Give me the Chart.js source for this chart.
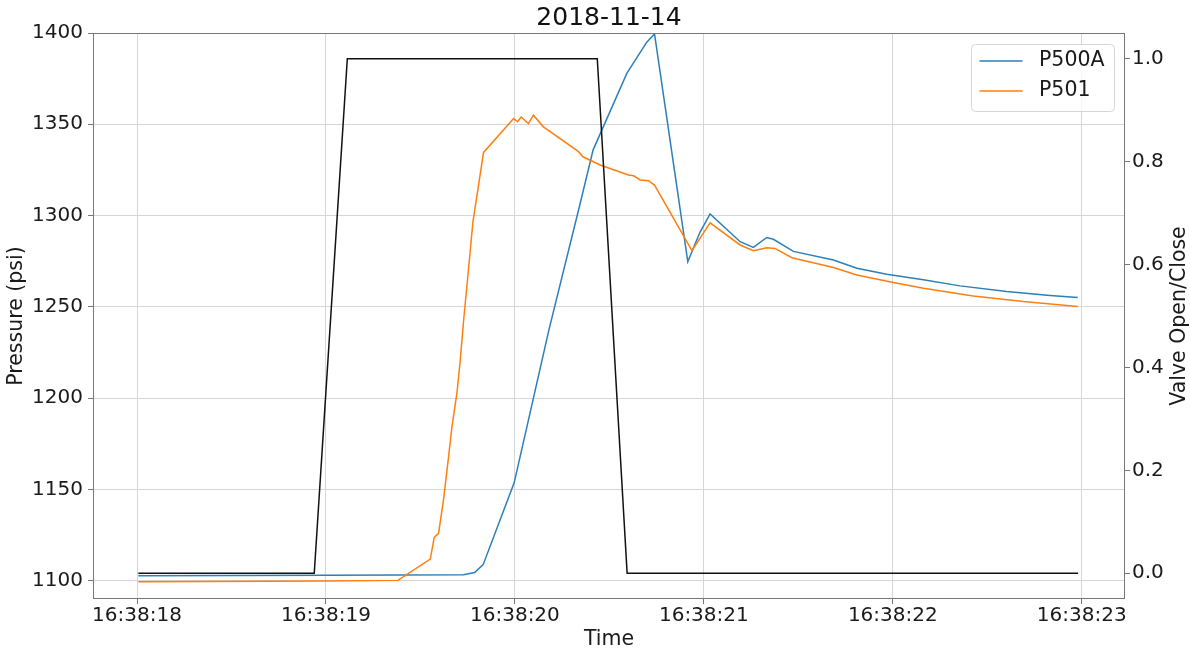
<!DOCTYPE html>
<html>
<head>
<meta charset="utf-8">
<script src="https://cdn.jsdelivr.net/npm/chart.js@4.4.1/dist/chart.umd.min.js"></script>
<style>
  html, body { margin: 0; padding: 0; background: #fff; }
  #wrap { width: 1190px; height: 652px; }
</style>
</head>
<body>
<div id="wrap"><canvas id="pressureChart" width="1190" height="652"></canvas></div>
<script>
// seconds after 16:38:18
const timeP500A = [0.007, 1.007, 1.728, 1.787, 1.832, 1.996, 2.098, 2.180, 2.346, 2.414, 2.593, 2.698, 2.739,
    2.915, 2.980, 3.033, 3.192, 3.262, 3.333, 3.368, 3.474, 3.686, 3.810, 3.968, 4.162, 4.356, 4.603, 4.832, 4.979]
const pressureP500A = [1102.7, 1103.0, 1103.3, 1104.5, 1108.8, 1153.6, 1200, 1237.4, 1306.9, 1336, 1378, 1395, 1399.5,
    1274.8, 1291, 1300.9, 1285.7, 1282.6, 1288, 1287, 1280.4, 1275.7, 1271.2, 1267.9, 1264.8, 1261.5, 1258.4, 1256.2, 1255.1]

const timeP501 = [0.007, 1.007, 1.381, 1.552, 1.573, 1.596, 1.622, 1.649, 1.667, 1.693, 1.711, 1.728, 1.749, 1.778,
    1.834, 1.993, 2.014, 2.033, 2.072, 2.098, 2.151, 2.337, 2.360, 2.451, 2.601, 2.628, 2.663, 2.707, 2.739,
    2.937, 3.033, 3.192, 3.262, 3.333, 3.377, 3.466, 3.686, 3.810, 4.003, 4.162, 4.426, 4.691, 4.979]
const pressureP501 = [1099.5, 1099.8, 1100.2, 1111.9, 1123.7, 1126, 1144.3, 1168, 1184.5, 1202.7, 1221, 1242, 1264.7, 1296.7,
    1334.6, 1353.2, 1351.4, 1354, 1350.4, 1355, 1348.6, 1335, 1332.2, 1327.7, 1322.2, 1321.8, 1319.5, 1319.1, 1316.7,
    1280.8, 1296, 1283.9, 1280.8, 1282.4, 1282, 1276.9, 1271.6, 1267.5, 1263.3, 1260.2, 1256, 1252.9, 1250.2]

const timeValve = [0.007, 0.938, 1.113, 2.436, 2.594, 4.981]
const valveState = [0, 0, 1, 1, 0, 0]

const timeTicks = [0, 1, 2, 3, 4, 5]
const pressureTicks = [1100, 1150, 1200, 1250, 1300, 1350, 1400]
const valveTicks = [0, 0.2, 0.4, 0.6, 0.8, 1.0]

const valveAxisTitle = 'Valve Open/Close'

Chart.defaults.font.family = "'DejaVu Sans', sans-serif"
Chart.defaults.color = '#1a1a1a'

const toPoints = (xs, ys) => xs.map((x, i) => ({ x, y: ys[i] }))
const fixTicks = values => scale => { scale.ticks = values.map(value => ({ value })) }

// matplotlib-ish frame, legend box and the right axis label read bottom-to-top
const frameLegend = {
    id: 'frameLegend',
    afterDatasetsDraw(chart) {
        const { ctx, chartArea } = chart
        ctx.save()
        ctx.strokeStyle = '#777'
        ctx.lineWidth = 1
        ctx.strokeRect(chartArea.left + 0.5, chartArea.top + 0.5, chartArea.right - chartArea.left - 1, chartArea.bottom - chartArea.top - 1)

        const items = chart.data.datasets.filter(d => d.inLegend)
        const w = 143, h = 67
        const left = chartArea.right - 11 - w, top = chartArea.top + 11
        ctx.beginPath()
        ctx.roundRect(left + 0.5, top + 0.5, w, h, 4)
        ctx.fillStyle = 'rgba(255,255,255,0.8)'
        ctx.fill()
        ctx.strokeStyle = '#d6d6d6'
        ctx.stroke()

        ctx.font = "20.5px 'DejaVu Sans'"
        ctx.textBaseline = 'middle'
        items.forEach((d, i) => {
            const y = top + 17 + i * 30
            ctx.beginPath()
            ctx.moveTo(left + 8.5, y)
            ctx.lineTo(left + 51.5, y)
            ctx.strokeStyle = d.borderColor
            ctx.lineWidth = 1.5
            ctx.stroke()
            ctx.fillStyle = '#1a1a1a'
            ctx.fillText(d.label, left + 68, y)
        })

        ctx.translate(chart.width - 10, (chartArea.top + chartArea.bottom) / 2)
        ctx.rotate(-Math.PI / 2)
        ctx.textAlign = 'center'
        ctx.textBaseline = 'middle'
        ctx.fillText(valveAxisTitle, 0, 0)
        ctx.restore()
    }
}

const data = {
    datasets: [
        {
            label: 'Valve',
            data: toPoints(timeValve, valveState),
            borderColor: '#111',
            yAxisID: 'y1',
            order: 0
        },
        {
            label: 'P500A',
            data: toPoints(timeP500A, pressureP500A),
            borderColor: '#2c7fb8',
            yAxisID: 'y',
            inLegend: true,
            order: 2
        },
        {
            label: 'P501',
            data: toPoints(timeP501, pressureP501),
            borderColor: '#ff7f0e',
            yAxisID: 'y',
            inLegend: true,
            order: 1
        }
    ]
}

const options = {
    responsive: false,
    animation: false,
    layout: { padding: 0 },
    elements: {
        line: { borderWidth: 1.5, tension: 0, fill: false },
        point: { radius: 0 }
    },
    plugins: {
        legend: { display: false },
        tooltip: { enabled: false },
        title: {
            display: true,
            text: '2018-11-14',
            fullSize: false,
            color: '#111',
            font: { size: 25, weight: 'normal', lineHeight: 1.2 },
            padding: { top: 3, bottom: 0 }
        }
    },
    scales: {
        x: {
            type: 'linear',
            min: -0.233,
            max: 5.229,
            afterBuildTicks: fixTicks(timeTicks),
            afterFit: s => { s.height = 53 },
            grid: { color: '#d6d6d6', tickColor: '#777', tickLength: 5 },
            border: { display: false },
            ticks: {
                font: { size: 20 },
                padding: 0,
                maxRotation: 0,
                callback: v => '16:38:' + (18 + v)
            },
            title: { display: true, text: 'Time', font: { size: 20.5 }, padding: 0 }
        },
        y: {
            position: 'left',
            min: 1090,
            max: 1400,
            afterBuildTicks: fixTicks(pressureTicks),
            afterFit: s => { s.width = 93 },
            grid: { color: '#d6d6d6', tickColor: '#777', tickLength: 5 },
            border: { display: false },
            ticks: { font: { size: 20 }, padding: 5, callback: v => String(v) },
            title: { display: true, text: 'Pressure (psi)', font: { size: 20.5 }, padding: { top: 4, bottom: 0 } }
        },
        y1: {
            position: 'right',
            min: -0.05,
            max: 1.05,
            afterBuildTicks: fixTicks(valveTicks),
            afterFit: s => { s.width = 65 },
            grid: { drawOnChartArea: false, tickColor: '#777', tickLength: 5 },
            border: { display: false },
            ticks: { font: { size: 20 }, padding: 2, callback: v => v.toFixed(1) },
            title: { display: false }
        }
    }
}

new Chart('pressureChart', { type: 'line', data, options, plugins: [frameLegend] })
</script>
</body>
</html>
